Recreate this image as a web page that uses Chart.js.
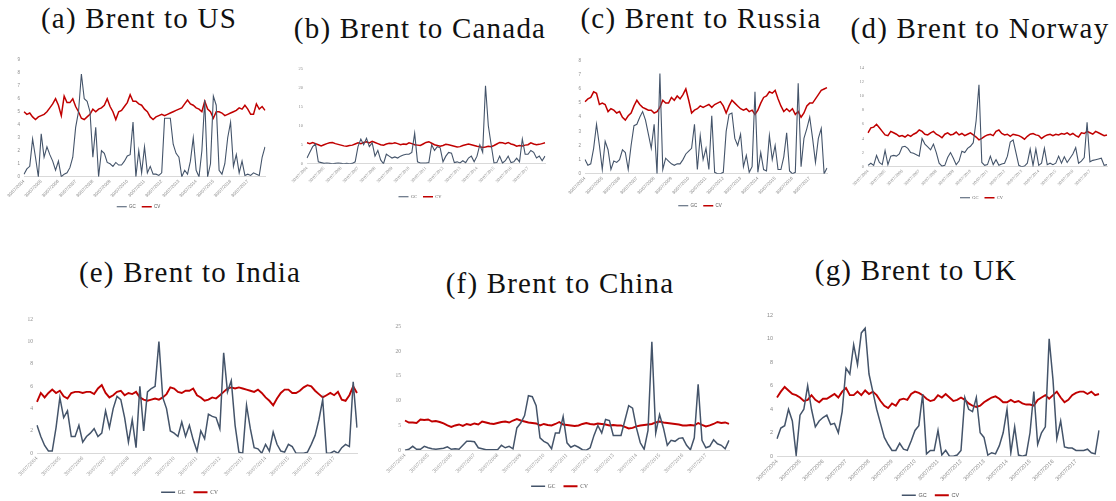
<!DOCTYPE html>
<html>
<head>
<meta charset="utf-8">
<script src="https://cdn.jsdelivr.net/npm/chart.js@4.4.1/dist/chart.umd.min.js"></script>
<style>
  body { margin: 0; background: #fff; width: 1116px; height: 501px; position: relative; overflow: hidden; }
  .title { position: absolute; font-family: "Liberation Serif", serif; font-size: 29px; line-height: 29px;
           letter-spacing: 1.2px; white-space: nowrap; transform: translateX(-50%); color: #111; }
  canvas { position: absolute; }
</style>
</head>
<body>
<script>
// Yearly tick labels (one every 6 points, data is bi-monthly)
const tickYears = ['30/07/2004', '30/07/2005', '30/07/2006', '30/07/2007', '30/07/2008', '30/07/2009', '30/07/2010',
  '30/07/2011', '30/07/2012', '30/07/2013', '30/07/2014', '30/07/2015', '30/07/2016', '30/07/2017'];
const seriesNames = ['GC', 'CV'];

// (a) Brent to US
const gcUS = [0.2, 0.6, 0.8, 2.9, 1.5, 0,
  3.3, 1.5, 2.3, 1.7, 1.2, 0.5,
  1.2, 0, 0.2, 0.3, 0.7, 1.5,
  3.8, 5.0, 7.9, 6.0, 5.8, 5.0,
  1.5, 3.8, 0, 2.0, 1.8, 1.1,
  1.0, 0.8, 1.1, 0.9, 0.9, 1.2,
  1.6, 1.7, 4.2, 0, 2.0, 0.3,
  2.3, 0.3, 0.8, 0.2, 0.2, 0.1,
  0.3, 4.5, 4.5, 4.5, 2.5, 1.8,
  1.5, 0, 0.5, 0.2, 1.2, 3.0,
  0.5, 0, 2.0, 5.9, 0, 1.0,
  6.2, 5.5, 0.5, 0.2, 1.0, 3.0,
  4.2, 0.8, 1.7, 0.3, 1.2, 0.1,
  0.2, 0.1, 0.3, 0.2, 0.1, 1.5,
  2.3];
const cvUS = [5.0, 4.8, 4.9, 4.6, 4.4, 4.6,
  4.7, 4.8, 5.0, 5.3, 5.6, 6.0,
  5.5, 4.7, 6.2, 5.7, 5.7, 6.0,
  5.4, 5.0, 4.5, 4.4, 4.6, 4.8,
  5.2, 5.0, 5.2, 5.3, 5.5, 6.0,
  5.4, 5.0, 4.4, 5.0, 5.1, 5.4,
  5.7, 6.3, 5.8, 5.8, 5.6, 5.5,
  5.2, 5.0, 4.6, 4.4, 4.6, 4.7,
  4.8, 4.7, 4.8, 4.9, 5.0, 5.1,
  5.2, 5.3, 5.6, 5.9, 5.6, 5.5,
  5.3, 5.2, 5.0, 5.8, 5.2, 5.0,
  4.5, 5.0, 5.0, 4.9, 4.7, 4.8,
  4.9, 5.0, 5.1, 5.3, 5.2, 5.5,
  5.2, 4.8, 4.8, 5.6, 5.2, 5.4,
  5.1];

// (b) Brent to Canada
const gcCanada = [1.5, 3.0, 4.5, 5.2, 0.5, 0.3,
  0.1, 0.2, 0.1, 0, 0.1, 0.2,
  0.1, 0, 0.1, 0, 0.1, 0.5,
  4.5, 6.5, 5.0, 6.7, 4.5, 5.5,
  2.0, 3.5, 1.0, 0, 2.5, 2.0,
  1.5, 1.8, 1.5, 2.0, 2.3, 2.5,
  2.5, 3.0, 8.0, 0.5, 0.2, 0.2,
  0.2, 0.3, 5.0, 3.5, 4.5, 4.2,
  0.5, 2.0, 3.0, 2.8, 0.3, 0.5,
  0.2, 0.8, 0.3, 1.5, 2.0, 0.5,
  2.0, 5.0, 3.0, 20.5, 10.0, 5.0,
  0.2, 0.3, 2.0, 0.2, 0.8, 2.0,
  0.3, 0.5, 1.5, 0.5, 6.5, 2.5,
  2.5, 3.5, 3.0, 1.5, 2.0, 0.8,
  2.0];
const cvCanada = [5.5, 5.3, 5.6, 5.3, 5.0, 4.7,
  5.0, 5.3, 5.5, 5.6, 5.3, 5.1,
  4.9, 4.7, 4.6, 4.8, 4.9, 5.2,
  5.5, 5.3, 5.6, 5.8, 5.5, 5.9,
  5.6, 5.3, 5.0, 4.9, 5.2, 5.4,
  5.3, 5.5, 5.3, 5.0, 5.2, 5.1,
  5.5, 5.3, 5.0, 4.9, 4.8, 5.2,
  5.6, 5.8, 5.4, 5.0, 4.8, 4.6,
  4.8, 5.1, 5.0, 4.8, 4.6, 4.4,
  4.5, 4.8, 5.0, 5.2, 5.0, 4.8,
  4.6, 4.5, 4.3, 4.4, 4.6, 4.5,
  4.8, 5.2, 5.6, 5.5, 5.3, 5.6,
  5.2, 5.0, 4.6, 4.8, 4.7, 4.9,
  5.0, 5.5, 5.2, 5.0, 5.1, 5.3,
  5.5];

// (c) Brent to Russia
const gcRussia = [1.0, 0.6, 0.7, 1.8, 3.5, 2.0,
  0.3, 2.3, 1.7, 0.3, 0.9, 0.8,
  1.0, 1.7, 1.5, 0.3, 2.0, 3.4,
  3.5, 4.0, 4.4, 3.8, 2.8, 1.8,
  3.5, 0.0, 7.1, 0.3, 1.1, 0.9,
  0.7, 0.6, 0.7, 0.7, 1.0, 1.4,
  1.6, 1.8, 3.5, 0.3, 2.7, 1.0,
  1.8, 0.3, 4.1, 0.1, 0.0, 0.0,
  0.1, 3.0, 4.2, 4.3, 2.5, 2.0,
  2.8, 0.5, 1.3, 0.1, 0.5, 5.8,
  0.1, 1.5, 0.3, 0.2, 2.7, 1.0,
  2.0, 0.3, 0.3, 1.2, 2.9, 0.2,
  0.0, 0.1, 6.4, 0.5, 2.5, 3.2,
  4.0, 2.5, 0.8, 2.5, 3.2, 0.0,
  0.4];
const cvRussia = [5.1, 5.3, 5.4, 5.8, 5.7, 4.9,
  5.0, 4.9, 4.4, 4.6, 4.5, 4.3,
  4.4, 4.0, 3.8, 4.1, 4.3, 4.8,
  5.2, 4.9, 4.7, 4.6, 4.5, 4.5,
  4.3, 4.4, 4.7, 5.2, 5.0, 5.0,
  5.4, 5.2, 5.5, 5.3, 5.6, 6.0,
  5.2, 4.3, 4.5, 4.6, 4.8, 4.7,
  4.8, 4.9, 4.7, 4.9, 5.0, 5.1,
  4.8, 4.3, 4.8, 5.2, 5.0, 4.8,
  4.6, 4.5, 4.6, 4.4, 4.5, 4.2,
  4.5, 5.0, 5.4, 5.5, 5.8, 5.7,
  5.9, 5.3, 4.8, 4.4, 4.6, 4.4,
  4.6, 4.2, 4.4, 4.0, 4.3, 4.8,
  5.0, 5.0, 5.3, 5.6, 5.9, 6.0,
  6.1];

// (d) Brent to Norway
const gcNorway = [0.2, 0.5, 0.2, 1.6, 0.6, 0.3,
  2.3, 0.3, 1.5, 1.6, 1.5, 1.8,
  2.8, 2.9, 2.6, 2.0, 1.9, 1.7,
  1.5, 4.0, 3.2, 2.8, 2.4, 3.2,
  2.0, 0.5, 0.1, 0.2, 1.3, 2.0,
  1.2, 0.3, 0.8, 2.2, 2.0, 2.6,
  2.9, 3.4, 6.5, 11.6, 0.6, 0.2,
  0.3, 1.5, 0.3, 1.0, 0.2, 0.4,
  0.5, 1.5, 3.5, 3.8, 2.0, 0.2,
  0.0, 0.1, 0.5, 2.5, 0.2, 2.5,
  0.2, 0.5, 2.6, 0.3, 0.5, 0.3,
  0.5, 1.5, 0.5, 1.4, 0.6, 1.2,
  1.8, 2.7, 0.5, 0.8, 1.3, 6.3,
  0.7, 0.9, 1.0, 1.1, 1.2, 0.2,
  0.3];
const cvNorway = [4.8, 5.5, 5.6, 6.0, 5.5, 5.0,
  4.5, 4.4, 5.0, 4.8, 4.6, 4.3,
  4.4, 4.2, 4.5, 4.3, 4.6, 4.8,
  5.2, 5.0, 4.6, 4.5, 4.8, 5.0,
  4.6, 4.4, 4.1, 4.6, 4.8, 4.5,
  4.6, 4.9, 4.5, 4.7, 4.4, 4.6,
  4.8, 4.5, 4.2, 3.8, 4.0, 4.3,
  4.5, 4.6, 4.4, 5.0, 5.2, 4.7,
  4.5, 4.6, 4.3, 4.6, 4.5, 4.4,
  4.2, 3.9, 4.3, 4.6, 4.7, 4.5,
  4.4, 4.0, 4.3, 4.5, 4.6, 4.4,
  4.6, 4.5, 4.7, 4.6, 4.8, 4.5,
  4.7, 4.4, 4.2, 4.8, 4.7, 5.0,
  4.8, 4.6, 5.0, 4.8, 4.6, 4.4,
  4.5];

// (e) Brent to India
const gcIndia = [2.5, 1.5, 0.7, 0.2, 0.2, 2.3,
  5.0, 3.2, 3.8, 1.5, 1.5, 2.5,
  1.0, 1.5, 1.8, 2.2, 1.5, 1.8,
  3.8, 2.3, 4.0, 5.1, 4.8, 3.2,
  1.0, 3.0, 0.5, 6.0, 2.0, 5.5,
  5.8, 6.0, 10.0, 5.0, 4.0, 2.0,
  1.8, 1.5, 2.8, 1.5, 2.5, 1.2,
  0.2, 2.0, 1.3, 3.5, 3.3, 3.2,
  2.2, 9.0, 5.5, 6.5, 2.5, 0.1,
  0.0, 4.3, 2.2, 0.5, 0.4, 0.0,
  0.8, 0.2, 1.9, 0.8, 0.2, 0.1,
  0.8, 0.6, 0.0, 0.0, 0.0, 0.1,
  0.8, 1.6, 3.0, 4.8, 0.0, 0.0,
  0.2, 0.0, 0.5, 0.8, 0.6, 6.4,
  2.3];
const cvIndia = [4.6, 5.4, 5.0, 5.4, 5.7, 5.4,
  5.6, 5.1, 4.9, 5.4, 5.5, 5.5,
  5.4, 5.5, 5.5, 5.3, 5.8, 6.1,
  5.4, 5.0, 5.2, 5.5, 5.6, 5.2,
  5.4, 5.3, 5.5, 5.0, 4.8, 4.7,
  4.8, 4.9, 4.8, 5.0, 5.3, 5.9,
  5.8, 5.5, 5.4, 5.6, 5.6, 5.8,
  5.2, 5.0, 4.7, 4.8, 5.0, 4.9,
  5.2, 5.5, 5.8, 5.9, 5.8, 5.9,
  5.8, 5.7, 5.6, 5.5, 5.7, 5.4,
  5.0, 4.7, 4.3, 4.9, 5.4, 5.7,
  5.7, 5.4, 5.4, 5.6, 5.9, 6.1,
  6.0, 5.6, 5.3, 5.0, 5.2, 5.4,
  5.2, 5.5, 4.8, 4.7, 5.2, 6.0,
  5.4];

// (f) Brent to China
const gcChina = [0.0, 0.2, 0.8, 0.2, 0.2, 0.8,
  0.5, 0.3, 0.2, 0.3, 0.4, 0.7,
  0.2, 0.3, 0.2, 1.0, 1.8, 1.8,
  1.7, 0.5, 0.3, 0.1, 0.1, 0.1,
  0.1, 1.0, 0.5, 0.8, 0.3, 4.5,
  5.5, 7.0, 11.0, 10.8, 9.0, 2.5,
  1.8, 1.4, 0.3, 3.5, 3.5, 6.8,
  1.5, 0.6, 1.0, 0.6, 0.1, 0.0,
  0.5, 3.0, 5.0, 3.5, 6.2, 6.0,
  3.0, 3.0, 3.0, 6.0, 9.0, 8.5,
  4.5, 1.5, 0.2, 4.0, 21.9, 3.5,
  7.2, 4.5, 1.0, 2.0, 1.8, 2.4,
  2.5, 1.0, 0.1, 2.5, 13.3, 2.0,
  0.5, 0.8, 2.1, 1.3, 1.0, 0.3,
  2.0];
const cvChina = [6.0, 5.6, 5.6, 5.5, 6.2, 6.1,
  6.2, 5.8, 5.9, 5.7, 5.4, 5.0,
  4.7, 5.0, 5.2, 4.9, 5.3, 5.1,
  5.4, 5.2, 5.8, 5.6, 5.4, 5.3,
  5.5, 5.7, 5.8, 5.6, 6.0, 6.3,
  6.0, 5.8, 5.6, 5.5, 5.4, 5.0,
  5.3, 5.1, 5.0, 5.3, 5.7, 5.2,
  5.1, 5.0, 4.9, 5.0, 5.3, 5.5,
  5.3, 5.2, 5.4, 5.3, 5.2, 5.0,
  5.1, 5.0, 5.0, 4.7, 4.4, 4.5,
  4.8, 5.0, 5.1, 5.2, 5.3, 5.6,
  5.8, 5.6, 5.5, 5.4, 5.3, 5.2,
  5.0, 5.0, 5.1, 5.0, 5.5, 5.1,
  4.8, 5.0, 5.3, 5.7, 5.5, 5.6,
  5.3];

// (g) Brent to UK
const gcUK = [1.5, 2.4, 2.6, 4.0, 3.0, 0.1,
  3.5, 4.0, 6.0, 4.0, 2.5, 3.0,
  3.3, 3.5, 2.7, 2.8, 2.0, 3.8,
  7.5, 7.0, 9.5, 7.8, 10.5, 10.9,
  7.0, 5.5, 4.0, 2.8, 1.6, 1.0,
  0.5, 0.5, 1.1, 0.6, 0.5, 1.3,
  2.2, 2.6, 5.3, 0.2, 0.5, 0.5,
  2.2, 0.1, 0.5, 0.0, 0.0, 0.1,
  0.5, 5.0, 4.0, 3.8, 5.0, 2.0,
  1.6, 0.1, 0.3, 0.2, 0.9, 2.0,
  4.0, 0.3, 2.5, 0.1, 0.0, 0.1,
  2.0, 5.5, 1.0, 2.0, 2.5, 10.0,
  6.5, 1.5, 3.0, 0.8, 0.7, 0.7,
  0.5, 0.5, 0.5, 0.6, 0.3, 0.2,
  2.2];
const cvUK = [5.0, 5.5, 5.9, 5.6, 5.3, 5.2,
  5.0, 4.7, 4.8, 5.2, 4.8, 4.6,
  4.9, 4.9, 5.1, 5.3, 5.0, 5.5,
  5.8, 5.2, 5.2, 5.5, 5.2, 5.6,
  5.3, 5.5, 5.2, 4.7, 4.3, 4.1,
  4.5, 4.3, 4.8, 4.9, 4.8, 5.3,
  5.5, 5.4, 5.2, 4.9, 4.7, 4.8,
  5.2, 5.0, 5.3, 5.0, 4.7, 4.8,
  5.0, 4.8, 4.5, 4.3, 4.2, 4.3,
  4.6, 4.8, 5.0, 5.1, 4.9, 4.6,
  4.6, 4.8, 4.6, 4.7, 4.5, 4.4,
  4.4, 4.3, 4.8, 5.0, 5.2, 4.9,
  5.2, 5.5, 5.0, 4.6, 4.8, 5.2,
  5.4, 5.5, 5.5, 5.3, 5.5, 5.2,
  5.3];

// Panel layout: plot box [left, right, top, bottom] in page pixels
const panels = [
  { title: '(a) Brent to US', tx: 139, ty: 18, gc: gcUS, cv: cvUS, yMax: 9, yStep: 1, plot: [24, 265, 58, 177], legendY: 207, small: true, font: 'Liberation Sans' },
  { title: '(b) Brent to Canada', tx: 420, ty: 28, gc: gcCanada, cv: cvCanada, yMax: 25, yStep: 5, plot: [307, 545, 67, 164], legendY: 197, small: true, font: 'Liberation Serif' },
  { title: '(c) Brent to Russia', tx: 701, ty: 18, gc: gcRussia, cv: cvRussia, yMax: 8, yStep: 1, plot: [585, 827, 59, 174], legendY: 206, small: true, font: 'Liberation Sans' },
  { title: '(d) Brent to Norway', tx: 980, ty: 28, gc: gcNorway, cv: cvNorway, yMax: 14, yStep: 2, plot: [868, 1107, 66, 167], legendY: 198, small: true, font: 'Liberation Serif' },
  { title: '(e) Brent to India', tx: 190, ty: 272, gc: gcIndia, cv: cvIndia, yMax: 12, yStep: 2, plot: [37, 357, 317, 453], legendY: 492, small: false, font: 'Liberation Serif' },
  { title: '(f) Brent to China', tx: 560, ty: 283, gc: gcChina, cv: cvChina, yMax: 25, yStep: 5, plot: [405, 729, 324, 450], legendY: 486, small: false, font: 'Liberation Serif' },
  { title: '(g) Brent to UK', tx: 916, ty: 270, gc: gcUK, cv: cvUK, yMax: 12, yStep: 2, plot: [777, 1099, 313, 456], legendY: 495, small: false, font: 'Liberation Sans' }
];

function createPanel(p) {
  const title = document.createElement('div');
  title.className = 'title';
  title.textContent = p.title;
  title.style.left = p.tx + 'px';
  title.style.top = (p.ty - 14) + 'px';
  document.body.appendChild(title);

  const fs = p.small ? 4.5 : 5.5;
  const legPad = p.small ? 6 : 8;
  const yW = p.small ? 12 : 15;
  const padL = p.small ? 10 : 13;
  const padT = 5, padR = 3;
  const [L, R, T, B] = p.plot;
  const xH = p.legendY - B - legPad - fs / 2;
  const left = L - yW - padL;
  const top = T - padT;
  const width = R + padR - left;
  const height = Math.round(B + xH + fs + legPad + 10 - top);

  const canvas = document.createElement('canvas');
  canvas.width = width;
  canvas.height = height;
  canvas.style.left = left + 'px';
  canvas.style.top = top + 'px';
  document.body.appendChild(canvas);

  const labels = p.gc.map((_, i) => (i % 6 === 0 && i / 6 < tickYears.length) ? tickYears[i / 6] : '');
  const tickFont = { family: p.font, size: fs };

  new Chart(canvas, {
    type: 'line',
    data: {
      labels: labels,
      datasets: [{
        label: seriesNames[0],
        data: p.gc,
        borderColor: '#44546a',
        borderWidth: p.small ? 1.1 : 1.5,
        pointRadius: 0,
        pointStyle: 'line',
        tension: 0
      }, {
        label: seriesNames[1],
        data: p.cv,
        borderColor: '#c00000',
        borderWidth: p.small ? 1.5 : 1.9,
        pointRadius: 0,
        pointStyle: 'line',
        tension: 0
      }]
    },
    options: {
      responsive: false,
      animation: false,
      layout: { padding: { left: padL, top: padT, right: padR, bottom: 0 } },
      plugins: {
        legend: {
          position: 'bottom',
          labels: {
            usePointStyle: true,
            pointStyleWidth: p.small ? 10 : 14,
            font: { family: p.font, size: fs },
            color: '#595959',
            padding: legPad
          }
        },
        tooltip: { enabled: false }
      },
      scales: {
        x: {
          grid: { display: false, drawTicks: false },
          border: { color: '#d9d9d9' },
          ticks: {
            autoSkip: false,
            maxRotation: 45,
            minRotation: 45,
            padding: 2,
            font: tickFont,
            color: '#8c8c8c',
            callback: (v, i) => labels[i]
          },
          afterFit: s => { s.height = xH; s.paddingLeft = 0; s.paddingRight = 0; }
        },
        y: {
          min: 0,
          max: p.yMax,
          grid: { display: false, drawTicks: false },
          border: { display: false },
          ticks: { stepSize: p.yStep, font: tickFont, color: '#8c8c8c', padding: 4 },
          afterFit: s => { s.width = yW; }
        }
      }
    }
  });
}

panels.forEach(createPanel);
</script>
</body>
</html>
